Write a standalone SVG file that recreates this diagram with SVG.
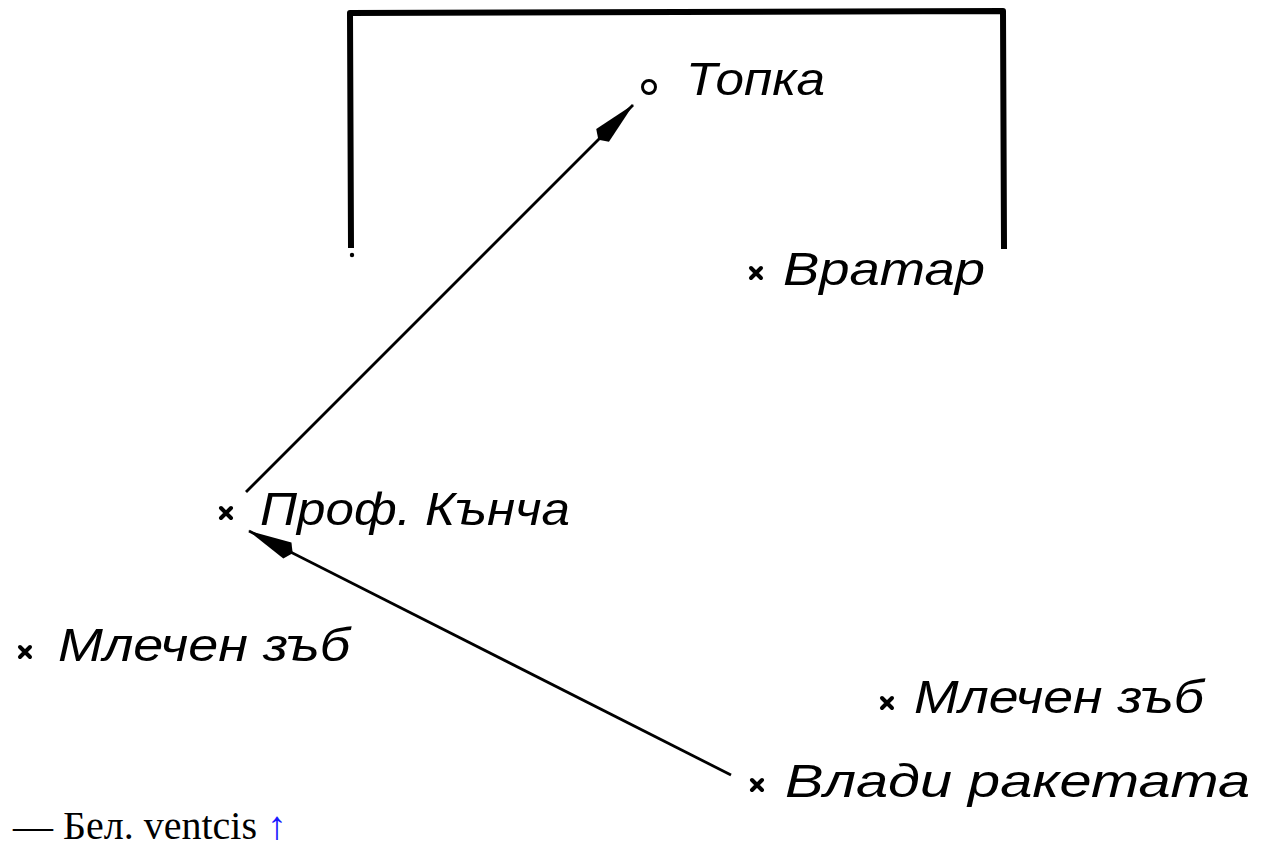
<svg xmlns="http://www.w3.org/2000/svg" width="1263" height="850" viewBox="0 0 1263 850">
<style>
.lbl{font-family:"Liberation Sans","DejaVu Sans",sans-serif;font-style:italic;font-size:47px;fill:#000}
.x{stroke:#000;stroke-width:4;stroke-linecap:round}
.arr{stroke:#000;stroke-width:2.8;fill:none}
.note{font-family:"Liberation Serif","DejaVu Serif",serif;font-size:40px;fill:#000}
.link{fill:#1a1aff}
</style>
<defs>
<marker id="ah" markerUnits="userSpaceOnUse" viewBox="0 0 50 20" refX="49" refY="10" markerWidth="50" markerHeight="20" orient="auto">
<path d="M0,10 L6,1 L50,10 L6,19 Z" fill="#000"/>
</marker>
</defs>
<rect width="1263" height="850" fill="#fff"/>
<text class="note link" x="114" y="-6">[?]</text>
<g id="goal">
<path d="M351,248 L350,13 L1003,11 L1004,249" fill="none" stroke="#000" stroke-width="6" stroke-linejoin="round"/>
<circle cx="352" cy="255" r="2.2" fill="#000"/>
</g>
<g id="connectors">
<line class="arr" x1="246" y1="492" x2="633" y2="105" marker-end="url(#ah)"/>
<line class="arr" x1="731" y1="775" x2="249" y2="531" marker-end="url(#ah)"/>
</g>
<g id="ball">
<circle cx="649" cy="87" r="6.5" fill="none" stroke="#000" stroke-width="3"/>
<text class="lbl" x="686" y="95" textLength="139" lengthAdjust="spacingAndGlyphs">Топка</text>
</g>
<g id="goalkeeper">
<path class="x" d="M751,268 L761,278 M761,268 L751,278"/>
<text class="lbl" x="783" y="285" textLength="202" lengthAdjust="spacingAndGlyphs">Вратар</text>
</g>
<g id="prof">
<path class="x" d="M221,508 L231,518 M231,508 L221,518"/>
<text class="lbl" x="260" y="525" textLength="310" lengthAdjust="spacingAndGlyphs">Проф. Кънча</text>
</g>
<g id="tooth-left">
<path class="x" d="M20,647 L30,657 M30,647 L20,657"/>
<text class="lbl" x="58" y="661" textLength="292" lengthAdjust="spacingAndGlyphs">Млечен зъб</text>
</g>
<g id="tooth-right">
<path class="x" d="M882,698 L892,708 M892,698 L882,708"/>
<text class="lbl" x="914" y="713" textLength="290" lengthAdjust="spacingAndGlyphs">Млечен зъб</text>
</g>
<g id="vladi">
<path class="x" d="M752,780 L762,790 M762,780 L752,790"/>
<text class="lbl" x="785" y="797" textLength="465" lengthAdjust="spacingAndGlyphs">Влади ракетата</text>
</g>
<text class="note" x="13" y="839">— Бел. ventcis <tspan class="link">↑</tspan></text>
</svg>
